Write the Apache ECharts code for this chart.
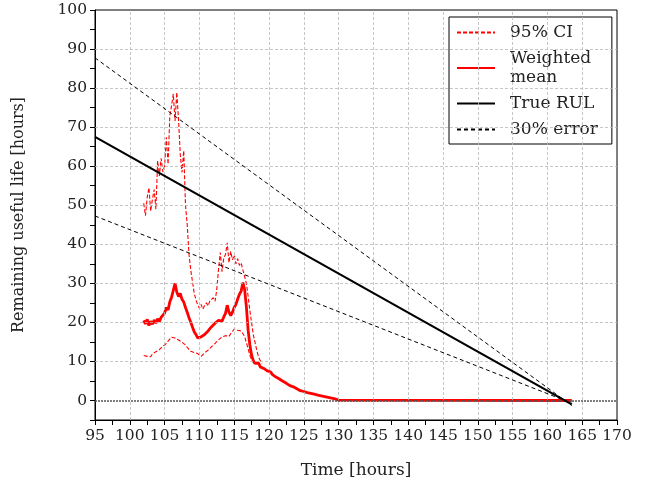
<!DOCTYPE html>
<html>
<head>
<meta charset="utf-8">
<script src="https://cdn.jsdelivr.net/npm/echarts@6/dist/echarts.min.js"></script>
<style>html,body{margin:0;background:#fff}#chart{width:652px;height:488px}</style>
</head>
<body>
<div id="chart"></div>
<script>
// estimates are sampled every 0.25 h starting at t = 102 h
const sampleStart = 102
const sampleStep = 0.25

const meanVals = [
  20.5, 19.6, 20.8, 19.2, 20.3, 19.5, 20.6, 19.8, 20.9, 20.2, 21.3, 21.0,
  22.4, 23.8, 23.2, 25.3, 26.4, 28.2, 30.0, 27.8, 26.6, 27.4, 25.9, 25.2,
  23.8, 22.6, 21.2, 20.1, 18.8, 17.6, 16.9, 16.0, 15.5, 16.3, 15.8, 16.9,
  17.3, 17.8, 18.3, 18.9, 19.2, 19.8, 19.4, 20.5, 20.9, 20.3, 21.4, 22.3,
  24.4, 22.6, 21.7, 22.6, 23.8, 24.6, 26.0, 27.2, 28.0, 30.2, 28.4, 24.0,
  18.0, 14.2, 11.6, 10.2, 9.5, 9.0, 9.6, 8.6, 8.8, 8.2, 8.3, 7.6,
  8.1, 7.3, 6.6, 6.9, 6.0, 6.3, 5.5, 5.7, 4.9, 5.2, 4.4, 4.6,
  3.8, 4.1, 3.5, 3.3, 3.0, 2.9, 2.5, 2.7, 2.3, 2.4, 2.0, 2.1,
  1.8, 1.9, 1.6, 1.7, 1.4, 1.5, 1.2, 1.3, 1.0, 1.1, 0.8, 0.8,
  0.6, 0.6, 0.4, 0.2, 0.1, 0.0
]
const upperVals = [
  50.5, 47.3, 52.0, 54.5, 48.5, 51.5, 54.0, 49.0, 61.4, 57.5, 62.0, 58.5,
  60.0, 67.4, 60.5, 72.9, 75.5, 78.5, 71.6, 78.9, 72.0, 63.0, 58.4, 64.0,
  50.0, 45.0, 37.5, 33.5, 30.5, 27.5, 25.8, 24.5, 23.6, 24.6, 23.4, 24.3,
  25.0, 24.2, 25.5, 25.0, 26.3, 25.4, 28.5, 33.6, 37.9, 33.0, 36.5, 37.4,
  40.4, 35.3, 38.2, 36.0, 37.2, 35.0, 36.3, 34.6, 35.2, 33.4, 33.0, 30.0,
  26.7, 23.0, 19.9, 16.8, 14.8, 12.8, 11.2, 10.2, 9.5
]
const lowerVals = [
  11.5, 11.8, 11.3, 11.6, 11.2, 11.9, 12.2, 12.5, 12.8, 13.0, 13.4, 13.9,
  14.3, 14.6, 15.2, 15.6, 16.2, 16.5, 16.0, 15.8, 15.5, 15.2, 14.9, 14.5,
  14.2, 13.6, 13.2, 12.6, 12.8, 12.3, 12.5, 12.0, 11.6, 11.3, 11.8, 12.2,
  12.6, 12.9, 13.3, 13.8, 14.2, 14.6, 14.9, 15.5, 15.8, 16.3, 16.0, 16.6,
  17.0, 16.4, 17.1, 16.8, 18.3, 18.6, 18.0, 18.4, 17.8, 17.5, 16.4, 14.8,
  13.2, 11.6, 10.4, 9.8, 9.2
]
// after the estimate reaches zero it stays there until the end of life
const meanTailT = [163.5]
const meanTailV = [0]

const rulT = [95, 163.5]
const rulV = [67.5, -1.0]
const errHiV = [87.75, -1.3]
const errLoV = [47.25, -0.7]

const xGridTicks = [100, 105, 110, 115, 120, 125, 130, 135, 140, 145, 150, 155, 160, 165]
const yGridTicks = [10, 20, 30, 40, 50, 60, 70, 80, 90]

const font = 'DejaVu Serif'

function sampled(vals) {
  return vals.map((v, i) => [sampleStart + i * sampleStep, v])
}
function pairs(ts, vs) {
  return ts.map((t, i) => [t, vs[i]])
}

const meanData = sampled(meanVals).concat(pairs(meanTailT, meanTailV))

const gridLine = { color: '#b8b8b8', type: [3, 2], width: 0.8 }
const markLines = xGridTicks.map(v => ({ xAxis: v, lineStyle: gridLine }))
  .concat(yGridTicks.map(v => ({ yAxis: v, lineStyle: gridLine })))
  .concat([{ yAxis: 0, lineStyle: { color: '#555', type: [2, 1], width: 1.6 } }])

const myChart = echarts.init(document.getElementById('chart'))
const option = {
  animation: false,
  textStyle: { fontFamily: font },
  grid: {
    left: 95, right: 35, top: 10, bottom: 68,
    show: true, borderColor: '#000', borderWidth: 1
  },
  legend: {
    orient: 'vertical',
    left: 449,
    top: 17,
    padding: [6, 14, 5, 7],
    itemGap: 7,
    itemWidth: 38,
    itemHeight: 14,
    borderColor: '#000',
    borderWidth: 1,
    borderRadius: 0,
    backgroundColor: '#fff',
    itemStyle: { opacity: 0 },
    textStyle: { fontFamily: font, fontSize: 17, color: '#222', lineHeight: 19, padding: [0, 0, 0, 10] },
    data: ['95% CI', 'Weighted\nmean', 'True RUL', '30% error']
  },
  xAxis: {
    type: 'value',
    min: 95,
    max: 170,
    interval: 2.5,
    name: 'Time [hours]',
    nameLocation: 'middle',
    nameGap: 42,
    nameTextStyle: { fontFamily: font, fontSize: 17, color: '#222' },
    axisLine: { onZero: false, lineStyle: { color: '#000', width: 1 } },
    axisTick: { length: 5, lineStyle: { color: '#000' } },
    axisLabel: {
      fontFamily: font, fontSize: 15.5, color: '#222', margin: 8,
      formatter: v => (v % 5 === 0 ? String(v) : '')
    },
    splitLine: { show: false }
  },
  yAxis: {
    type: 'value',
    min: -5,
    max: 100,
    interval: 5,
    name: 'Remaining useful life [hours]',
    nameLocation: 'middle',
    nameGap: 68,
    nameTextStyle: { fontFamily: font, fontSize: 16, color: '#222' },
    axisLine: { onZero: false, lineStyle: { color: '#000', width: 1 } },
    axisTick: { length: 5, lineStyle: { color: '#000' } },
    axisLabel: {
      fontFamily: font, fontSize: 15.5, color: '#222', margin: 8,
      formatter: v => (v % 10 === 0 ? String(v) : '')
    },
    splitLine: { show: false }
  },
  series: [
    {
      name: 'grid',
      type: 'line',
      data: [],
      z: 1,
      silent: true,
      markLine: { silent: true, symbol: 'none', label: { show: false }, data: markLines }
    },
    {
      name: '95% CI',
      type: 'line',
      symbol: 'none',
      z: 3,
      color: '#ff0000',
      lineStyle: { color: '#ff0000', width: 1.1, type: [4, 2] },
      data: sampled(upperVals)
    },
    {
      name: '95% CI',
      type: 'line',
      symbol: 'none',
      z: 3,
      color: '#ff0000',
      lineStyle: { color: '#ff0000', width: 1.1, type: [4, 2] },
      data: sampled(lowerVals)
    },
    {
      name: 'Weighted\nmean',
      type: 'line',
      symbol: 'none',
      z: 4,
      color: '#ff0000',
      lineStyle: { color: '#ff0000', width: 2.8 },
      data: meanData
    },
    {
      name: 'True RUL',
      type: 'line',
      symbol: 'none',
      z: 5,
      color: '#000',
      lineStyle: { color: '#000', width: 2.2 },
      data: pairs(rulT, rulV)
    },
    {
      name: '30% error',
      type: 'line',
      symbol: 'none',
      z: 5,
      color: '#000',
      lineStyle: { color: '#000', width: 1, type: [4, 3] },
      data: pairs(rulT, errHiV)
    },
    {
      name: '30% error',
      type: 'line',
      symbol: 'none',
      z: 5,
      color: '#000',
      lineStyle: { color: '#000', width: 1, type: [4, 3] },
      data: pairs(rulT, errLoV)
    }
  ]
}
myChart.setOption(option)
</script>
</body>
</html>
